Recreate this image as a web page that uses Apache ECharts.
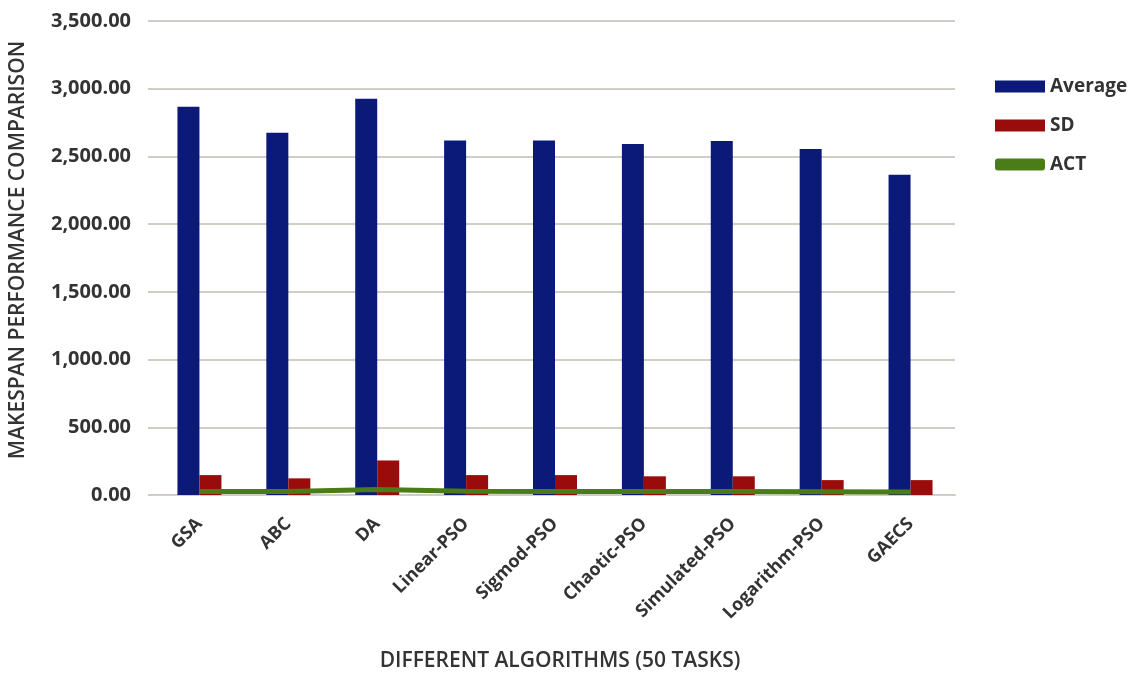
<!DOCTYPE html>
<html>
<head>
<meta charset="utf-8">
<script src="https://cdn.jsdelivr.net/npm/echarts@6/dist/echarts.min.js"></script>
<style>
  html, body { margin: 0; padding: 0; background: #ffffff; }
  #chart { width: 1134px; height: 677px; }
</style>
</head>
<body>
<div id="chart"></div>
<script>
// Makespan comparison of scheduling algorithms (50 tasks)
const categories = ['GSA', 'ABC', 'DA', 'Linear-PSO', 'Sigmod-PSO', 'Chaotic-PSO', 'Simulated-PSO', 'Logarithm-PSO', 'GAECS'];
const averageValues = [2867, 2675, 2926, 2617, 2617, 2592, 2614, 2555, 2364];
const sdValues = [147, 123, 255, 147, 147, 138, 138, 110, 110];
const actValues = [25, 25, 40, 28, 26, 25, 25, 24, 22];

const FONT = '"Open Sans", "Liberation Sans", sans-serif';
const TEXT = '#333333';

const chart = echarts.init(document.getElementById('chart'), null, { renderer: 'canvas' });

chart.setOption({
  animation: false,
  backgroundColor: '#ffffff',
  grid: { left: 155, right: 179, top: 21, bottom: 181, containLabel: false },
  legend: {
    orient: 'vertical',
    left: 990,
    top: 72,
    itemWidth: 50,
    itemHeight: 12,
    itemGap: 20,
    textStyle: { fontFamily: FONT, fontSize: 19, fontWeight: 'bold', color: TEXT },
    data: [
      { name: 'Average', icon: 'rect' },
      { name: 'SD', icon: 'rect' },
      { name: 'ACT', icon: 'roundRect', itemStyle: { color: '#4a7d17' } }
    ]
  },
  xAxis: {
    type: 'category',
    data: categories,
    name: 'DIFFERENT ALGORITHMS (50 TASKS)',
    nameLocation: 'middle',
    nameGap: 156,
    nameTextStyle: { fontFamily: FONT, fontSize: 21, fontWeight: 600, color: TEXT, padding: [0, 0, 0, 10] },
    axisLine: { show: true, lineStyle: { color: '#d0cdc4', width: 2 } },
    axisTick: { show: false },
    axisLabel: {
      rotate: 45,
      margin: 26,
      fontFamily: FONT,
      fontSize: 18,
      fontWeight: 'bold',
      color: TEXT,
      interval: 0
    }
  },
  yAxis: {
    type: 'value',
    min: 0,
    max: 3500,
    interval: 500,
    name: 'MAKESPAN PERFORMANCE COMPARISON',
    nameLocation: 'middle',
    nameGap: 126,
    nameRotate: 90,
    nameTextStyle: { fontFamily: FONT, fontSize: 21, fontWeight: 600, color: TEXT, padding: [0, 0, 0, 16] },
    axisLine: { show: false },
    axisTick: { show: true, length: 7, lineStyle: { color: '#d0cdc4', width: 2 } },
    splitLine: { show: true, lineStyle: { color: '#d0cdc4', width: 2 } },
    axisLabel: {
      margin: 24,
      fontFamily: FONT,
      fontSize: 20,
      fontWeight: 'bold',
      color: TEXT,
      formatter: v => v.toLocaleString('en-US', { minimumFractionDigits: 2, maximumFractionDigits: 2 })
    }
  },
  series: [
    {
      name: 'Average',
      type: 'bar',
      data: averageValues,
      barWidth: 22,
      barGap: '0%',
      itemStyle: { color: '#0b1a78' }
    },
    {
      name: 'SD',
      type: 'bar',
      data: sdValues,
      barWidth: 22,
      barGap: '0%',
      itemStyle: { color: '#9a0c0c' }
    },
    {
      name: 'ACT',
      type: 'line',
      data: actValues,
      symbol: 'none',
      z: 5,
      lineStyle: { color: '#4a7d17', width: 5 },
      itemStyle: { color: '#4a7d17' }
    }
  ]
});
</script>
</body>
</html>
